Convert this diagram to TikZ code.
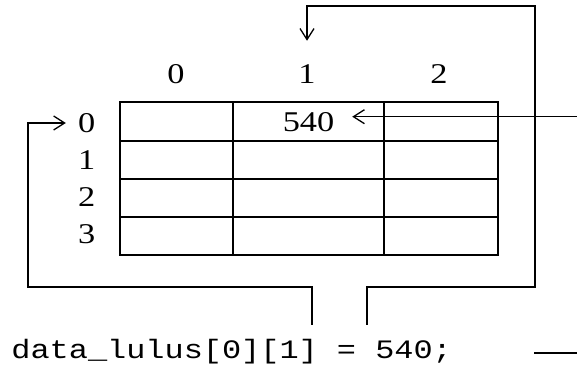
\documentclass[tikz,border=0pt]{standalone}
\usepackage{fontspec}
\newfontfamily\lblfont[FakeStretch=1.2]{Liberation Serif}
\newfontfamily\codefont[FakeStretch=1.2]{Liberation Mono}
\usetikzlibrary{arrows.meta}

\begin{document}
\begin{tikzpicture}[x=0.5pt,y=-0.5pt]
\tikzstyle{every node}+=[inner sep=0pt]
\tikzstyle{idx}=[font=\lblfont\fontsize{14.3}{16}\selectfont]
\tikzstyle{code}=[font=\codefont\fontsize{13.3}{15}\selectfont]
\tikzstyle{wire}=[line width=0.65pt]
\tikzstyle{pointer}=[wire, -{Straight Barb[length=5.5pt,width=7pt]}]
\tikzstyle{cellline}=[line width=0.8pt]
\useasboundingbox (0,0) rectangle (577,367);
% the array
\draw [cellline] (120,102) rectangle (498,255);
\draw [cellline] (233,102) -- (233,255);
\draw [cellline] (384,102) -- (384,255);
\draw [cellline] (120,141) -- (498,141);
\draw [cellline] (120,179) -- (498,179);
\draw [cellline] (120,217) -- (498,217);
% column and row indices
\node [idx] (c0) at (176,74) {0};
\node [idx] (c1) at (307,74) {1};
\node [idx] (c2) at (439,74) {2};
\node [idx] (r0) at (86.8,123) {0};
\node [idx] (r1) at (86.8,160) {1};
\node [idx] (r2) at (86.8,197) {2};
\node [idx] (r3) at (86.8,234) {3};
\node [idx] (val) at (308.5,122) {540};
% the statement
\node [code, anchor=base west] (stmt) at (11,358) {data\_lulus[0][1] = 540;};
\coordinate (jL) at (312,325);
\coordinate (jR) at (367,325);
\coordinate (feed) at (577,116.7);
\coordinate (tailA) at (534,353);
\coordinate (tailB) at (577,353);
% connectors
\draw [pointer, shorten >=6pt] (jL) |- (28,287) |- (r0);
\draw [pointer, shorten >=11.7pt] (jR) |- (535,287) -- (535,6) -| (c1);
\draw [pointer, shorten >=8.8pt] (feed) -- (feed -| val.east);
\draw [wire] (tailA) -- (tailB);
\end{tikzpicture}
\end{document}
